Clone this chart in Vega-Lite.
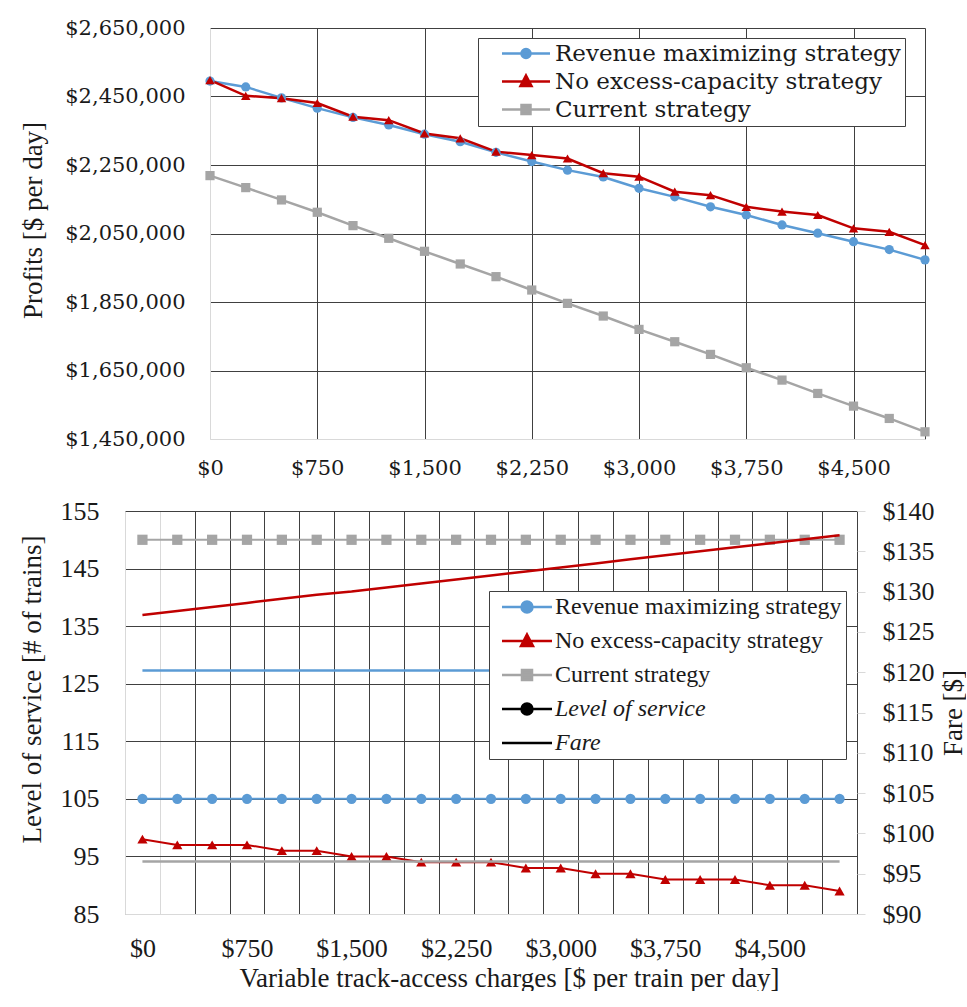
{
  "$schema": "https://vega.github.io/schema/vega-lite/v6.json",
  "background": "white",
  "padding": {"left": 18, "top": 17, "right": 0, "bottom": 0},
  "datasets": {
    "d": [
      {"c": 0, "s": "Current strategy", "profit": 2219000, "los": 150, "fare": 96.5},
      {"c": 250, "s": "Current strategy", "profit": 2184000, "los": 150, "fare": 96.5},
      {"c": 500, "s": "Current strategy", "profit": 2148000, "los": 150, "fare": 96.5},
      {"c": 750, "s": "Current strategy", "profit": 2112000, "los": 150, "fare": 96.5},
      {"c": 1000, "s": "Current strategy", "profit": 2073000, "los": 150, "fare": 96.5},
      {"c": 1250, "s": "Current strategy", "profit": 2036000, "los": 150, "fare": 96.5},
      {"c": 1500, "s": "Current strategy", "profit": 1998000, "los": 150, "fare": 96.5},
      {"c": 1750, "s": "Current strategy", "profit": 1961000, "los": 150, "fare": 96.5},
      {"c": 2000, "s": "Current strategy", "profit": 1924000, "los": 150, "fare": 96.5},
      {"c": 2250, "s": "Current strategy", "profit": 1885000, "los": 150, "fare": 96.5},
      {"c": 2500, "s": "Current strategy", "profit": 1846000, "los": 150, "fare": 96.5},
      {"c": 2750, "s": "Current strategy", "profit": 1809000, "los": 150, "fare": 96.5},
      {"c": 3000, "s": "Current strategy", "profit": 1770000, "los": 150, "fare": 96.5},
      {"c": 3250, "s": "Current strategy", "profit": 1734000, "los": 150, "fare": 96.5},
      {"c": 3500, "s": "Current strategy", "profit": 1697000, "los": 150, "fare": 96.5},
      {"c": 3750, "s": "Current strategy", "profit": 1658000, "los": 150, "fare": 96.5},
      {"c": 4000, "s": "Current strategy", "profit": 1622000, "los": 150, "fare": 96.5},
      {"c": 4250, "s": "Current strategy", "profit": 1583000, "los": 150, "fare": 96.5},
      {"c": 4500, "s": "Current strategy", "profit": 1546000, "los": 150, "fare": 96.5},
      {"c": 4750, "s": "Current strategy", "profit": 1510000, "los": 150, "fare": 96.5},
      {"c": 5000, "s": "Current strategy", "profit": 1471000, "los": 150, "fare": 96.5},
      {"c": 0, "s": "Revenue maximizing strategy", "profit": 2495000, "los": 105, "fare": 120.2},
      {"c": 250, "s": "Revenue maximizing strategy", "profit": 2478000, "los": 105, "fare": 120.2},
      {"c": 500, "s": "Revenue maximizing strategy", "profit": 2446000, "los": 105, "fare": 120.2},
      {"c": 750, "s": "Revenue maximizing strategy", "profit": 2416000, "los": 105, "fare": 120.2},
      {"c": 1000, "s": "Revenue maximizing strategy", "profit": 2389000, "los": 105, "fare": 120.2},
      {"c": 1250, "s": "Revenue maximizing strategy", "profit": 2367000, "los": 105, "fare": 120.2},
      {"c": 1500, "s": "Revenue maximizing strategy", "profit": 2340000, "los": 105, "fare": 120.2},
      {"c": 1750, "s": "Revenue maximizing strategy", "profit": 2318000, "los": 105, "fare": 120.2},
      {"c": 2000, "s": "Revenue maximizing strategy", "profit": 2287000, "los": 105, "fare": 120.2},
      {"c": 2250, "s": "Revenue maximizing strategy", "profit": 2260000, "los": 105, "fare": 120.2},
      {"c": 2500, "s": "Revenue maximizing strategy", "profit": 2235000, "los": 105, "fare": 120.2},
      {"c": 2750, "s": "Revenue maximizing strategy", "profit": 2215000, "los": 105, "fare": 120.2},
      {"c": 3000, "s": "Revenue maximizing strategy", "profit": 2182000, "los": 105, "fare": 120.2},
      {"c": 3250, "s": "Revenue maximizing strategy", "profit": 2157000, "los": 105, "fare": 120.2},
      {"c": 3500, "s": "Revenue maximizing strategy", "profit": 2128000, "los": 105, "fare": 120.2},
      {"c": 3750, "s": "Revenue maximizing strategy", "profit": 2104000, "los": 105, "fare": 120.2},
      {"c": 4000, "s": "Revenue maximizing strategy", "profit": 2075000, "los": 105, "fare": 120.2},
      {"c": 4250, "s": "Revenue maximizing strategy", "profit": 2051000, "los": 105, "fare": 120.2},
      {"c": 4500, "s": "Revenue maximizing strategy", "profit": 2026000, "los": 105, "fare": 120.2},
      {"c": 4750, "s": "Revenue maximizing strategy", "profit": 2003000, "los": 105, "fare": 120.2},
      {"c": 5000, "s": "Revenue maximizing strategy", "profit": 1973000, "los": 105, "fare": 120.2},
      {"c": 0, "s": "No excess-capacity strategy", "profit": 2498000, "los": 98, "fare": 127.1},
      {"c": 250, "s": "No excess-capacity strategy", "profit": 2452000, "los": 97, "fare": 127.6},
      {"c": 500, "s": "No excess-capacity strategy", "profit": 2445000, "los": 97, "fare": 128.1},
      {"c": 750, "s": "No excess-capacity strategy", "profit": 2431000, "los": 97, "fare": 128.6},
      {"c": 1000, "s": "No excess-capacity strategy", "profit": 2391000, "los": 96, "fare": 129.1},
      {"c": 1250, "s": "No excess-capacity strategy", "profit": 2381000, "los": 96, "fare": 129.6},
      {"c": 1500, "s": "No excess-capacity strategy", "profit": 2342000, "los": 95, "fare": 130.0},
      {"c": 1750, "s": "No excess-capacity strategy", "profit": 2328000, "los": 95, "fare": 130.5},
      {"c": 2000, "s": "No excess-capacity strategy", "profit": 2289000, "los": 94, "fare": 131.0},
      {"c": 2250, "s": "No excess-capacity strategy", "profit": 2279000, "los": 94, "fare": 131.5},
      {"c": 2500, "s": "No excess-capacity strategy", "profit": 2269000, "los": 94, "fare": 132.0},
      {"c": 2750, "s": "No excess-capacity strategy", "profit": 2226000, "los": 93, "fare": 132.5},
      {"c": 3000, "s": "No excess-capacity strategy", "profit": 2216000, "los": 93, "fare": 133.0},
      {"c": 3250, "s": "No excess-capacity strategy", "profit": 2172000, "los": 92, "fare": 133.5},
      {"c": 3500, "s": "No excess-capacity strategy", "profit": 2162000, "los": 92, "fare": 134.0},
      {"c": 3750, "s": "No excess-capacity strategy", "profit": 2128000, "los": 91, "fare": 134.5},
      {"c": 4000, "s": "No excess-capacity strategy", "profit": 2114000, "los": 91, "fare": 135.0},
      {"c": 4250, "s": "No excess-capacity strategy", "profit": 2104000, "los": 91, "fare": 135.5},
      {"c": 4500, "s": "No excess-capacity strategy", "profit": 2065000, "los": 90, "fare": 136.0},
      {"c": 4750, "s": "No excess-capacity strategy", "profit": 2055000, "los": 90, "fare": 136.5},
      {"c": 5000, "s": "No excess-capacity strategy", "profit": 2016000, "los": 89, "fare": 137.0}
    ]
  },
  "columns": 1,
  "spacing": 20,
  "resolve": {
    "scale": {"color": "independent", "shape": "independent", "x": "independent", "y": "independent"},
    "legend": {"color": "independent", "shape": "independent"}
  },
  "concat": [
    {
      "width": 800,
      "height": 411,
      "data": {"name": "d"},
      "encoding": {
        "x": {
          "field": "c", "type": "quantitative",
          "scale": {"domain": [0, 5000], "range": [85, 800], "nice": false, "zero": false},
          "axis": {
            "title": null,
            "domain": false,
            "values": [0, 750, 1500, 2250, 3000, 3750, 4500, 5000],
            "gridColor": {"condition": {"test": "datum.value == 0", "value": "#d9d9d9"}, "value": "#404040"},
            "labelExpr": "datum.value == 5000 ? '' : '$' + format(datum.value, ',')",
            "labelFont": "DejaVu Serif", "labelFontSize": 21,
            "labelPadding": 18, "labelFlush": false, "labelOverlap": false, "labelBound": false
          }
        },
        "y": {
          "field": "profit", "type": "quantitative",
          "scale": {"domain": [1450000, 2650000], "nice": false, "zero": false},
          "axis": {
            "title": "Profits [$ per day]",
            "titleY": 192,
            "offset": -85,
            "gridColor": {"condition": {"test": "datum.value == 1450000", "value": "#d9d9d9"}, "value": "#404040"},
            "values": [1450000, 1650000, 1850000, 2050000, 2250000, 2450000, 2650000],
            "labelExpr": "'$' + format(datum.value, ',')",
            "labelFont": "DejaVu Serif", "labelFontSize": 21,
            "labelPadding": 25, "labelOverlap": false, "labelFlush": false,
            "titleFont": "Liberation Serif", "titleFontSize": 27, "titlePadding": 17
          }
        }
      },
      "layer": [
        {
          "mark": {"type": "line", "strokeWidth": 2.5},
          "encoding": {
            "color": {
              "field": "s", "type": "nominal",
              "scale": {
                "domain": ["Revenue maximizing strategy", "No excess-capacity strategy", "Current strategy"],
                "range": ["#5B9BD5", "#C00000", "#A5A5A5"]
              },
              "legend": {
                "title": null,
                "orient": "none",
                "legendX": 353,
                "legendY": 10,
                "padding": 4,
                "strokeColor": "#404040",
                "fillColor": "white",
                "labelFont": "DejaVu Serif", "labelFontSize": 23, "labelColor": "#1a1a1a",
                "labelLimit": 600,
                "labelOffset": 17.5,
                "symbolOffset": 32.5,
                "rowPadding": 4,
                "symbolSize": 400,
                "symbolStrokeWidth": 2.5,
                "encode": {
                  "symbols": {
                    "update": {
                      "shape": {"signal": "datum.value == 'Revenue maximizing strategy' ? 'M-2.4,0 L2.4,0 M0.45,0 A0.45,0.45 0 1 1 -0.45,0 A0.45,0.45 0 1 1 0.45,0 Z' : datum.value == 'No excess-capacity strategy' ? 'M-2.4,0 L2.4,0 M0,-0.6 L0.55,0.45 L-0.55,0.45 Z' : 'M-2.4,0 L2.4,0 M-0.45,-0.45 L0.45,-0.45 L0.45,0.45 L-0.45,0.45 Z'"},
                      "fill": {"signal": "datum.value == 'Revenue maximizing strategy' ? '#5B9BD5' : datum.value == 'No excess-capacity strategy' ? '#C00000' : '#A5A5A5'"},
                      "stroke": {"signal": "datum.value == 'Revenue maximizing strategy' ? '#5B9BD5' : datum.value == 'No excess-capacity strategy' ? '#C00000' : '#A5A5A5'"},
                      "strokeWidth": {"value": 2.5},
                      "opacity": {"value": 1}
                    }
                  },
                  "labels": {
                    "update": {
                      "font": {"value": "DejaVu Serif"},
                      "fontSize": {"value": 23}
                    }
                  }
                }
              }
            }
          }
        },
        {
          "transform": [{"filter": "datum.s == 'Current strategy'"}],
          "mark": {"type": "point", "filled": true, "size": 85, "opacity": 1, "shape": "square", "color": "#A5A5A5"}
        },
        {
          "transform": [{"filter": "datum.s == 'Revenue maximizing strategy'"}],
          "mark": {"type": "point", "filled": true, "size": 85, "opacity": 1, "shape": "circle", "color": "#5B9BD5"}
        },
        {
          "transform": [{"filter": "datum.s == 'No excess-capacity strategy'"}],
          "mark": {"type": "point", "filled": true, "size": 90, "opacity": 1, "shape": "triangle-up", "color": "#C00000"}
        }
      ]
    },
    {
      "width": 732,
      "height": 403,
      "data": {"name": "d"},
      "encoding": {
        "x": {
          "field": "c", "type": "ordinal",
          "scale": {"type": "band", "paddingInner": 0, "paddingOuter": 0},
          "axis": {
            "title": "Variable track-access charges [$ per train per day]",
            "titleFont": "Liberation Serif", "titleFontSize": 27, "titlePadding": 4,
            "titleX": 384,
            "gridColor": {"condition": {"test": "datum.value == 0", "value": "#d9d9d9"}, "value": "#404040"},
            "labelExpr": "datum.value % 750 == 0 ? '$' + format(datum.value, ',') : ''",
            "labelAngle": 0,
            "labelFont": "Liberation Serif", "labelFontSize": 26,
            "labelPadding": 21, "labelOverlap": false, "labelBound": false,
            "tickBand": "extent"
          }
        },
        "color": {
          "field": "s", "type": "nominal",
          "scale": {
            "domain": ["Revenue maximizing strategy", "No excess-capacity strategy", "Current strategy", "Level of service", "Fare"],
            "range": ["#5B9BD5", "#C00000", "#A5A5A5", "#000000", "#000000"]
          },
          "legend": {
            "title": null,
            "orient": "none",
            "legendX": 364,
            "legendY": 80,
            "padding": 4,
            "strokeColor": "#404040",
            "fillColor": "white",
            "labelFont": "Liberation Serif", "labelFontSize": 24, "labelColor": "#1a1a1a",
            "labelLimit": 600,
            "labelOffset": 16,
            "symbolOffset": 22,
            "rowPadding": 10,
            "symbolSize": 400,
            "symbolStrokeWidth": 2.5,
            "encode": {
              "symbols": {
                "update": {
                  "shape": {"signal": "datum.value == 'Revenue maximizing strategy' || datum.value == 'Level of service' ? 'M-2.5,0 L2.5,0 M0.55,0 A0.55,0.55 0 1 1 -0.55,0 A0.55,0.55 0 1 1 0.55,0 Z' : datum.value == 'No excess-capacity strategy' ? 'M-2.5,0 L2.5,0 M0,-0.65 L0.6,0.5 L-0.6,0.5 Z' : datum.value == 'Current strategy' ? 'M-2.5,0 L2.5,0 M-0.5,-0.5 L0.5,-0.5 L0.5,0.5 L-0.5,0.5 Z' : 'M-2.5,0 L2.5,0'"},
                  "fill": {"signal": "datum.value == 'Revenue maximizing strategy' ? '#5B9BD5' : datum.value == 'No excess-capacity strategy' ? '#C00000' : datum.value == 'Current strategy' ? '#A5A5A5' : '#000000'"},
                  "stroke": {"signal": "datum.value == 'Revenue maximizing strategy' ? '#5B9BD5' : datum.value == 'No excess-capacity strategy' ? '#C00000' : datum.value == 'Current strategy' ? '#A5A5A5' : '#000000'"},
                  "strokeWidth": {"value": 2.5},
                  "opacity": {"value": 1}
                }
              },
              "labels": {
                "update": {
                  "font": {"value": "Liberation Serif"},
                  "fontSize": {"value": 24},
                  "fontStyle": {"signal": "datum.value == 'Level of service' || datum.value == 'Fare' ? 'italic' : 'normal'"}
                }
              }
            }
          }
        }
      },
      "layer": [
        {
          "encoding": {
            "y": {
              "field": "los", "type": "quantitative",
              "scale": {"domain": [85, 155], "nice": false, "zero": false},
              "axis": {
                "title": "Level of service [# of trains]",
                "titleY": 178,
                "gridColor": {"condition": {"test": "datum.value == 85", "value": "#d9d9d9"}, "value": "#404040"},
                "values": [85, 95, 105, 115, 125, 135, 145, 155],
                "labelFont": "Liberation Serif", "labelFontSize": 26,
                "labelPadding": 26,
                "titleFont": "Liberation Serif", "titleFontSize": 27, "titlePadding": 14
              }
            }
          },
          "layer": [
            {"mark": {"type": "line", "strokeWidth": 2}},
            {
              "mark": {"type": "point", "filled": true, "size": 105, "opacity": 1},
              "encoding": {
                "shape": {
                  "field": "s", "type": "nominal",
                  "scale": {
                    "domain": ["Revenue maximizing strategy", "No excess-capacity strategy", "Current strategy"],
                    "range": ["circle", "triangle-up", "square"]
                  },
                  "legend": null
                }
              }
            }
          ]
        },
        {
          "mark": {"type": "line", "strokeWidth": 2.5},
          "encoding": {
            "y": {
              "field": "fare", "type": "quantitative",
              "scale": {"domain": [90, 140], "nice": false, "zero": false},
              "axis": {
                "orient": "right",
                "title": "Fare [$]",
                "titleAngle": 270,
                "titleBaseline": "top",
                "values": [90, 95, 100, 105, 110, 115, 120, 125, 130, 135, 140],
                "labelExpr": "'$' + datum.value",
                "grid": false,
                "domain": false,
                "ticks": true, "tickColor": "#d9d9d9", "tickSize": 8,
                "labelFont": "Liberation Serif", "labelFontSize": 26,
                "labelPadding": 17,
                "titleFont": "Liberation Serif", "titleFontSize": 27, "titlePadding": 6
              }
            }
          }
        }
      ],
      "resolve": {"scale": {"y": "independent"}}
    }
  ],
  "config": {
    "view": {"stroke": null},
    "axis": {
      "labelColor": "#1a1a1a",
      "titleColor": "#1a1a1a",
      "titleFontWeight": "normal",
      "domainColor": "#d9d9d9",
      "gridColor": "#404040",
      "gridOpacity": 1,
      "gridWidth": 1,
      "ticks": false,
      "grid": true
    }
  }
}
